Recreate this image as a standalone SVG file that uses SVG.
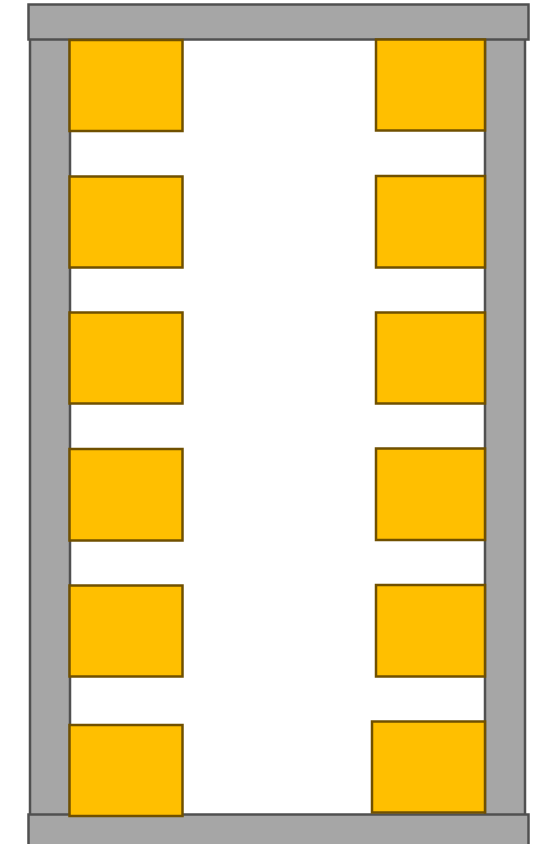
<svg xmlns="http://www.w3.org/2000/svg" width="534" height="844" viewBox="0 0 534 844">
<style>
.frame{fill:#a6a6a6;stroke:#505050;stroke-width:2.5}
.pad{fill:#ffbf00;stroke:#705000;stroke-width:2.5}
</style>
<rect width="534" height="844" fill="#ffffff"/>
<g id="frame">
<rect class="frame" x="30" y="30" width="40" height="790"/>
<rect class="frame" x="485" y="30" width="40" height="790"/>
<rect class="frame" x="28.5" y="4.5" width="500" height="35"/>
<rect class="frame" x="28.5" y="814.5" width="500" height="35"/>
</g>
<g id="left-pads">
<rect class="pad" x="69.5" y="40" width="113" height="91"/>
<rect class="pad" x="69.5" y="176.5" width="113" height="91"/>
<rect class="pad" x="69.5" y="312.5" width="113" height="91"/>
<rect class="pad" x="69.5" y="449" width="113" height="91.5"/>
<rect class="pad" x="69.5" y="585.5" width="113" height="91"/>
<rect class="pad" x="69.5" y="725" width="113" height="91"/>
</g>
<g id="right-pads">
<rect class="pad" x="376" y="39.5" width="109" height="91"/>
<rect class="pad" x="376" y="176" width="109" height="91.5"/>
<rect class="pad" x="376" y="312.5" width="109" height="91"/>
<rect class="pad" x="376" y="448.5" width="109" height="91.5"/>
<rect class="pad" x="376" y="585" width="109" height="91.5"/>
<rect class="pad" x="372" y="721.5" width="113" height="91"/>
</g>
</svg>
